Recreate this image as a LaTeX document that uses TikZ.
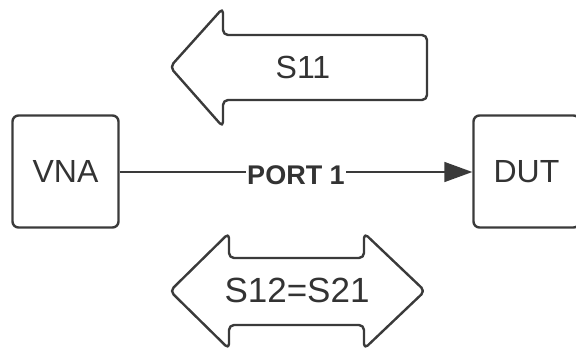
\documentclass[tikz,border=0pt]{standalone}
\usepackage{fontspec}
\setmainfont{Liberation Sans}
\usetikzlibrary{arrows.meta}
\definecolor{ink}{HTML}{3A3A3A}
\definecolor{txt}{HTML}{333333}
\tikzset{
  box/.style={draw=ink, line width=2.4pt, rounded corners=6pt, minimum width=106pt, minimum height=112pt, inner sep=0pt, text=txt},
  bigarrow/.style={draw=ink, line width=2.4pt, rounded corners=5pt, line join=round},
  lbl/.style={text=txt, inner sep=0pt},
  conn/.style={draw=ink, line width=1.6pt, -{Triangle[length=28pt,width=20pt]}}
}
\begin{document}
\begin{tikzpicture}[x=1pt,y=-1pt]
\useasboundingbox (0,0) rectangle (576,348);
\clip (0,0) rectangle (576,348);
% S11 arrow
\draw[bigarrow] (170,67) -- (223,8) -- (223,35) -- (427,35) -- (427,100) -- (223,100) -- (223,127) -- cycle;
\node[lbl, font=\fontsize{32}{36}\selectfont] (s11) at (303,67) {S11};
% S12=S21 double arrow
\draw[bigarrow] (170,291) -- (229,233) -- (229,258) -- (364,258) -- (364,233) -- (425,291) -- (364,349) -- (364,325) -- (229,325) -- (229,349) -- cycle;
\node[lbl, font=\fontsize{35}{40}\selectfont] (s12) at (297,290) {S12=S21};
% boxes
\node[box, font=\fontsize{32}{36}\selectfont] (vna) at (65.5,171.5) {VNA};
\node[box, font=\fontsize{32}{36}\selectfont] (dut) at (526.5,171.5) {DUT};
% connector
\draw[conn] (vna.east |- 0,172) -- node[fill=white, text=txt, inner sep=1pt, font=\bfseries\fontsize{27}{30}\selectfont, yshift=-3pt] (port) {PORT 1} (dut.west |- 0,172);
\end{tikzpicture}
\end{document}
